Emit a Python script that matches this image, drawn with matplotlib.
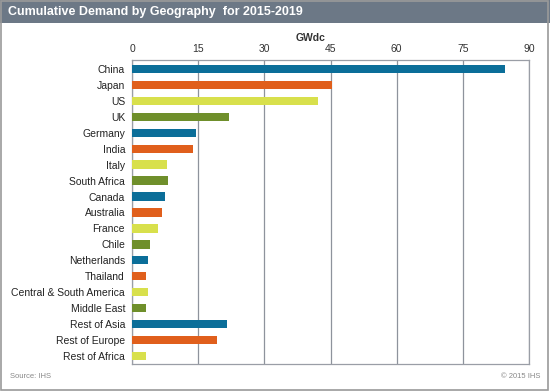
import matplotlib.pyplot as plt
from matplotlib.patches import Rectangle

plt.rcParams['font.family'] = ['Liberation Sans', 'DejaVu Sans']

countries = ['China', 'Japan', 'US', 'UK', 'Germany', 'India', 'Italy',
             'South Africa', 'Canada', 'Australia', 'France', 'Chile',
             'Netherlands', 'Thailand', 'Central & South America',
             'Middle East', 'Rest of Asia', 'Rest of Europe', 'Rest of Africa']
gwdc = [84.6, 45.3, 42.2, 22.0, 14.5, 13.8, 8.0, 8.1, 7.5, 6.7, 6.0, 4.0,
        3.6, 3.2, 3.6, 3.2, 21.5, 19.3, 3.2]
palette = ['#0b6e99', '#e05f1c', '#d8e04c', '#6f8f2b']
ticks = [0, 15, 30, 45, 60, 75, 90]

fig = plt.figure(figsize=(5.5, 3.91), dpi=100)

# title banner
fig.patches.append(Rectangle((0, 1 - 23 / 391), 1, 23 / 391, transform=fig.transFigure,
                             facecolor='#6c7886', edgecolor='none', zorder=0))
fig.text(8 / 550, 1 - 11.5 / 391, 'Cumulative Demand by Geography  for 2015-2019',
         color='white', fontsize=9, fontweight='bold', va='center', ha='left')
# outer frame
fig.patches.append(Rectangle((0.002, 0.003), 0.995, 0.994, transform=fig.transFigure,
                             facecolor='none', edgecolor='#9a9a9a', lw=1.2, zorder=1))

ax = fig.add_axes([132 / 550, 1 - 364 / 391, (529 - 132) / 550, (364 - 60) / 391])
y = list(range(len(countries)))
colors = [palette[i % 4] for i in y]
ax.barh(y, gwdc, height=0.52, color=colors, zorder=3)

ax.set_xlim(0, 90)
ax.set_ylim(18.5, -0.56)
ax.set_xticks(ticks)
ax.set_yticks(y)
ax.set_yticklabels(countries, fontsize=7.5, color='#222222')
ax.xaxis.tick_top()
ax.tick_params(axis='x', labelsize=7.5, length=0, pad=4, labelcolor='#333333')
ax.tick_params(axis='y', length=0, pad=5)
ax.grid(axis='x', color='#8e939c', lw=0.9, zorder=0)
for s in ax.spines.values():
    s.set_color('#9a9ea6')
    s.set_linewidth(0.9)

fig.text(0.45 * (529 - 132) / 550 + 132 / 550, 1 - 38 / 391, 'GWdc',
         fontsize=7.5, fontweight='bold', ha='center', va='center', color='#333333')
fig.text(10 / 550, 1 - 377 / 391, 'Source: IHS', fontsize=5.5, color='#888888', va='center')
fig.text(540 / 550, 1 - 377 / 391, '\u00a9 2015 IHS', fontsize=5.5, color='#888888',
         va='center', ha='right')

fig.savefig('out.png', dpi=100)
